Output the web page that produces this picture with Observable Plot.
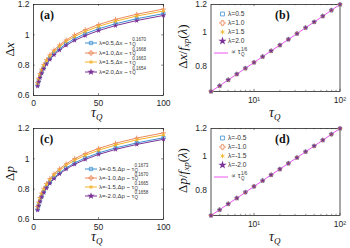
<!DOCTYPE html>
<html><head><meta charset="utf-8">
<script src="https://cdn.jsdelivr.net/npm/d3@7"></script>
<script src="https://cdn.jsdelivr.net/npm/@observablehq/plot@0.6"></script>
<style>
html,body{margin:0;padding:0;background:#fff;}
#root{position:relative;width:350px;height:248px;overflow:hidden;}
.panel{position:absolute;}
.lab{position:absolute;font-family:"Liberation Serif","DejaVu Serif",serif;color:#111;white-space:nowrap;line-height:1;}
.plab{position:absolute;font-family:"Liberation Serif",serif;font-weight:bold;font-size:12px;color:#111;line-height:1;}
.leg{position:absolute;font-family:"Liberation Sans",Arial,sans-serif;font-size:6px;color:#333;white-space:nowrap;display:flex;align-items:center;line-height:1;}
.leg2{font-size:6.6px;}
.ss{display:inline-flex;flex-direction:column;font-size:4.5px;line-height:4.6px;margin-left:0.5px;}
</style></head>
<body><div id="root"></div>
<script>
// ---- data ----
const tau = [3.16, 3.98, 5.01, 6.31, 7.94, 10, 12.6, 15.8, 20, 25.1, 31.6, 39.8, 50.1, 63.1, 79.4, 100];

// panel (a): Δx
const dxL05 = [0.668,0.696,0.725,0.754,0.784,0.815,0.846,0.877,0.909,0.941,0.974,1.007,1.040,1.073,1.106,1.140];
const dxL10 = [0.685,0.714,0.744,0.774,0.805,0.836,0.868,0.900,0.933,0.966,1.000,1.034,1.068,1.102,1.136,1.170];
const dxL15 = [0.678,0.707,0.736,0.766,0.797,0.828,0.859,0.891,0.923,0.956,0.989,1.022,1.056,1.090,1.124,1.157];
const dxL20 = [0.661,0.689,0.717,0.746,0.776,0.806,0.837,0.868,0.899,0.931,0.963,0.995,1.028,1.061,1.094,1.128];
const dxLabels = ["λ=0.5,Δx ~ τ","λ=1.0,Δx ~ τ","λ=1.5,Δx ~ τ","λ=2.0,Δx ~ τ"];
const dxExps = ["0.1670","0.1668","0.1663","0.1654"];

// panel (c): Δp
const dpL05 = [0.667,0.695,0.724,0.753,0.783,0.814,0.845,0.876,0.908,0.940,0.973,1.006,1.039,1.072,1.105,1.139];
const dpL10 = [0.686,0.715,0.745,0.775,0.806,0.837,0.869,0.901,0.934,0.967,1.001,1.035,1.069,1.103,1.137,1.171];
const dpL15 = [0.679,0.708,0.737,0.767,0.798,0.829,0.860,0.892,0.924,0.957,0.990,1.023,1.057,1.091,1.125,1.158];
const dpL20 = [0.662,0.690,0.718,0.747,0.777,0.807,0.838,0.869,0.900,0.932,0.964,0.996,1.029,1.062,1.095,1.129];
const dpLabels = ["λ=-0.5,Δp ~ τ","λ=-1.0,Δp ~ τ","λ=-1.5,Δp ~ τ","λ=-2.0,Δp ~ τ"];
const dpExps = ["0.1673","0.1670","0.1665","0.1658"];

// panels (b),(d): scaled data and τ^(1/6) fit
const scaled = [0.675,0.701,0.729,0.757,0.787,0.818,0.850,0.883,0.917,0.953,0.990,1.029,1.069,1.111,1.155,1.200];
const fitLine = [0.675,0.701,0.729,0.757,0.787,0.818,0.850,0.883,0.917,0.953,0.990,1.029,1.069,1.111,1.155,1.200];
const bLabels = ["λ=0.5","λ=1.0","λ=1.5","λ=2.0"];
const dLabels = ["λ=-0.5","λ=-1.0","λ=-1.5","λ=-2.0"];

const linTicksX = [0, 50, 100];
const linTicksY = [0.6, 0.8, 1, 1.2];
const logTicksX = [10, 100];
const logMinorX = [4,5,6,7,8,9,20,30,40,50,60,70,80,90];
const logTicksY = [0.8, 1, 1.2];

// ---- styles ----
const colors = ["#3d8fd1", "#ec8a5c", "#f2b42a", "#7b3296"];
const symbols = ["square", "plus", "asterisk", "star"];
const fitColor = "#ee55ee";
const ink = "#262626";
const fmt = d => String(+d.toFixed(2));
const supFmt = d => d === 10 ? "10¹" : "10²";

const root = document.getElementById("root");

function dotMark(vals, i, r) {
  const data = tau.map((t, k) => ({t, v: vals[k]}));
  const filled = symbols[i] === "star";
  return Plot.dot(data, {x: "t", y: "v", symbol: () => symbols[i], r,
    stroke: filled ? "none" : colors[i], fill: filled ? colors[i] : "none", strokeWidth: 0.9});
}

function linPanel(series, left, top) {
  const xd = [0, 100], yd = [0.6, 1.2];
  const marks = [
    Plot.frame({stroke: ink, strokeWidth: 0.8}),
    Plot.axisX({ticks: linTicksX, tickSize: 0, tickPadding: 4, label: null}),
    Plot.axisY({ticks: linTicksY, tickSize: 0, tickPadding: 4, label: null, tickFormat: fmt}),
    Plot.ruleX(linTicksX, {x: d => d, y1: yd[0], y2: yd[0] + 0.012, strokeWidth: 0.6, stroke: ink}),
    Plot.ruleX(linTicksX, {x: d => d, y1: yd[1], y2: yd[1] - 0.012, strokeWidth: 0.6, stroke: ink}),
    Plot.ruleY(linTicksY, {y: d => d, x1: xd[0], x2: xd[0] + 1.3, strokeWidth: 0.6, stroke: ink}),
    Plot.ruleY(linTicksY, {y: d => d, x1: xd[1], x2: xd[1] - 1.3, strokeWidth: 0.6, stroke: ink}),
  ];
  series.forEach((vals, i) => {
    const data = tau.map((t, k) => ({t, v: vals[k]}));
    marks.push(Plot.line(data, {x: "t", y: "v", stroke: colors[i], strokeWidth: 1}));
  });
  series.forEach((vals, i) => marks.push(dotMark(vals, i, 1.7)));
  const svg = Plot.plot({
    width: 175, height: 124, marginLeft: 33, marginRight: 12, marginTop: 4, marginBottom: 29,
    x: {type: "linear", domain: xd},
    y: {type: "linear", domain: yd},
    style: {fontFamily: "Liberation Sans, Arial, sans-serif", fontSize: "8.5px", color: ink, background: "transparent", overflow: "visible"},
    marks
  });
  svg.classList.add("panel"); svg.style.left = left + "px"; svg.style.top = top + "px";
  root.appendChild(svg);
}

function logPanel(left, top) {
  const xd = [3.16, 100], yd = [0.675, 1.2];
  const marks = [
    Plot.frame({stroke: ink, strokeWidth: 0.8}),
    Plot.axisX({ticks: logTicksX, tickSize: 0, tickPadding: 5, label: null, tickFormat: supFmt}),
    Plot.axisY({ticks: logTicksY, tickSize: 0, tickPadding: 4, label: null, tickFormat: fmt}),
    Plot.ruleX(logTicksX, {x: d => d, y1: yd[0], y2: yd[0] * 1.014, strokeWidth: 0.6, stroke: ink}),
    Plot.ruleX(logMinorX, {x: d => d, y1: yd[0], y2: yd[0] * 1.008, strokeWidth: 0.5, stroke: ink}),
    Plot.ruleX(logTicksX, {x: d => d, y1: yd[1], y2: yd[1] / 1.014, strokeWidth: 0.6, stroke: ink}),
    Plot.ruleX(logMinorX, {x: d => d, y1: yd[1], y2: yd[1] / 1.008, strokeWidth: 0.5, stroke: ink}),
  ];
  const fitData = tau.map((t, k) => ({t, v: fitLine[k]}));
  marks.push(Plot.line(fitData, {x: "t", y: "v", stroke: fitColor, strokeWidth: 1}));
  [0,1,2,3].forEach(i => marks.push(dotMark(scaled, i, 1.7)));
  const svg = Plot.plot({
    width: 175, height: 124, marginLeft: 35.5, marginRight: 10.5, marginTop: 4, marginBottom: 33,
    x: {type: "log", domain: xd},
    y: {type: "log", domain: yd},
    style: {fontFamily: "Liberation Sans, Arial, sans-serif", fontSize: "8.5px", color: ink, background: "transparent", overflow: "visible"},
    marks
  });
  svg.classList.add("panel"); svg.style.left = left + "px"; svg.style.top = top + "px";
  root.appendChild(svg);
}

function addHTML(html) { root.insertAdjacentHTML("beforeend", html); }

function swatch(i, withLine) {
  const w = withLine ? 12 : 7;
  const sym = d3.symbol().type({square: d3.symbolSquare, plus: d3.symbolCross, asterisk: d3.symbolAsterisk, star: d3.symbolStar}[symbols[i]]).size(symbols[i]==="star"?(withLine?16:22):(withLine?11:15))();
  const filled = symbols[i] === "star";
  return `<svg width="${w}" height="6" style="overflow:visible;margin-right:2px">
    ${withLine ? `<line x1="0" x2="${w}" y1="3" y2="3" stroke="${colors[i]}" stroke-width="1"/>` : ""}
    <path transform="translate(${w/2},3)" d="${sym}" fill="${filled ? colors[i] : "none"}" stroke="${filled ? "none" : colors[i]}" stroke-width="0.8"/></svg>`;
}

function lineLegend(labels, exps, left, tops) {
  labels.forEach((lab, i) => {
    addHTML(`<div class="leg" style="left:${left}px;top:${tops[i]-3}px">${swatch(i, true)}<span>${lab}</span><span class="ss" style="margin-top:-1px"><span>${exps[i]}</span><span>Q</span></span></div>`);
  });
}

function dotLegend(labels, left, tops, fitTop) {
  labels.forEach((lab, i) => {
    addHTML(`<div class="leg leg2" style="left:${left}px;top:${tops[i]-3}px">${swatch(i, false)}<span>${lab}</span></div>`);
  });
  addHTML(`<div class="leg leg2" style="left:${left-5}px;top:${fitTop-3}px"><svg width="14" height="6" style="margin-right:3px"><line x1="0" x2="14" y1="3" y2="3" stroke="${fitColor}" stroke-width="1"/></svg><span>∝ τ</span><span class="ss"><span>1/6</span><span>Q</span></span></div>`);
}

// panels
linPanel([dxL05, dxL10, dxL15, dxL20], 0, 0);
logPanel(175, 0);
linPanel([dpL05, dpL10, dpL15, dpL20], 0, 124);
logPanel(175, 124);

// panel letters
addHTML(`<div class="plab" style="left:40px;top:9px">(a)</div>`);
addHTML(`<div class="plab" style="left:275px;top:9px">(b)</div>`);
addHTML(`<div class="plab" style="left:40px;top:133px">(c)</div>`);
addHTML(`<div class="plab" style="left:275px;top:133px">(d)</div>`);

// axis labels
function xLabel(cx, top) {
  addHTML(`<div class="lab" style="left:${cx-7}px;top:${top}px;font-size:14px;font-style:italic;line-height:12px">τ<sub style="font-size:9px;vertical-align:-3px;line-height:9px">Q</sub></div>`);
}
function yLabel(html, cx, cy, w) {
  addHTML(`<div class="lab" style="left:${cx-w/2}px;top:${cy-7}px;width:${w}px;text-align:center;font-size:13px;transform:rotate(-90deg)">${html}</div>`);
}
xLabel(98, 107); xLabel(276, 107); xLabel(98, 231); xLabel(276, 231);
yLabel(`Δ<i>x</i>`, 9, 50, 30);
yLabel(`Δ<i>p</i>`, 9, 174, 30);
yLabel(`Δ<i>x</i>/<i>f</i><sub style="font-size:9px;vertical-align:-2px"><i>xp</i></sub>(<i>λ</i>)`, 183, 46, 80);
yLabel(`Δ<i>p</i>/<i>f</i><sub style="font-size:9px;vertical-align:-2px"><i>xp</i></sub>(<i>λ</i>)`, 183, 170, 80);

// legends
lineLegend(dxLabels, dxExps, 85, [42.3, 51.7, 61, 70.7]);
lineLegend(dpLabels, dpExps, 85, [168, 176.5, 186, 195.3]);
dotLegend(bLabels, 219, [14, 22.7, 31.7, 40.7], 51);
dotLegend(dLabels, 219, [138, 146.7, 155.7, 164.7], 175);
</script></body></html>
